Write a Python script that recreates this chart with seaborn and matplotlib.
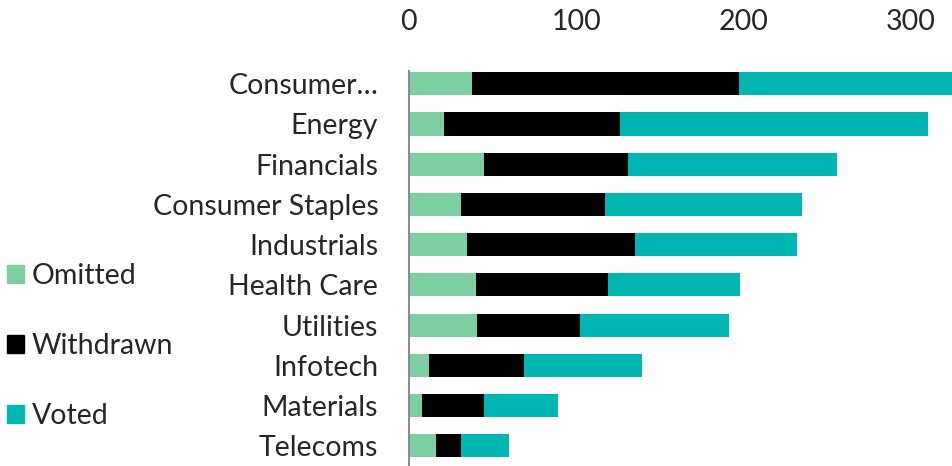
import pandas as pd
import matplotlib.pyplot as plt
import seaborn as sns

# data
sectors = ['Consumer…', 'Energy', 'Financials', 'Consumer Staples', 'Industrials',
           'Health Care', 'Utilities', 'Infotech', 'Materials', 'Telecoms']
omitted = [38, 21, 45, 31, 35, 40, 41, 12, 8, 16]
withdrawn = [159, 105, 86, 86, 100, 79, 61, 57, 37, 15]
voted = [130, 184, 125, 118, 97, 79, 89, 70, 44, 29]

c_omit = '#7dcfa1'
c_with = '#000000'
c_vote = '#00b6b2'

df = pd.DataFrame({'sector': sectors, 'Omitted': omitted,
                   'Withdrawn': withdrawn, 'Voted': voted})
df['lvl1'] = df['Omitted']
df['lvl2'] = df['Omitted'] + df['Withdrawn']
df['lvl3'] = df['lvl2'] + df['Voted']

sns.set_style('white')
plt.rcParams['font.family'] = ['Lato', 'DejaVu Sans']
fs = 20.5

fig = plt.figure(figsize=(9.53, 4.66), dpi=100)
ax = fig.add_axes([0.429, 0.0, 0.571, 0.848])

# stacked bars: draw cumulative totals back to front
for col, color in [('lvl3', c_vote), ('lvl2', c_with), ('lvl1', c_omit)]:
    sns.barplot(data=df, y='sector', x=col, orient='h', color=color,
                width=0.575, ax=ax, saturation=1, linewidth=0)

ax.set_xlim(0, 325)
ax.set_ylim(9.5, -0.32)
ax.set_xticks([0, 100, 200, 300])
ax.xaxis.tick_top()
ax.tick_params(axis='x', length=0, pad=26, labelsize=fs)
ax.tick_params(axis='y', length=0, pad=22, labelsize=fs)
ax.set_xlabel('')
ax.set_ylabel('')
for s in ['top', 'right', 'bottom']:
    ax.spines[s].set_visible(False)
ax.spines['left'].set_color('#8c8c96')
ax.spines['left'].set_linewidth(1.5)

handles = [plt.Rectangle((0, 0), 1, 1, color=c) for c in [c_omit, c_with, c_vote]]
fig.legend(handles, ['Omitted', 'Withdrawn', 'Voted'],
           loc='upper left', bbox_to_anchor=(-0.005, 0.46), frameon=False,
           fontsize=fs, handlelength=0.6, handleheight=0.6,
           handletextpad=0.28, labelspacing=1.54, borderaxespad=0)

fig.savefig('out.png', dpi=100)
